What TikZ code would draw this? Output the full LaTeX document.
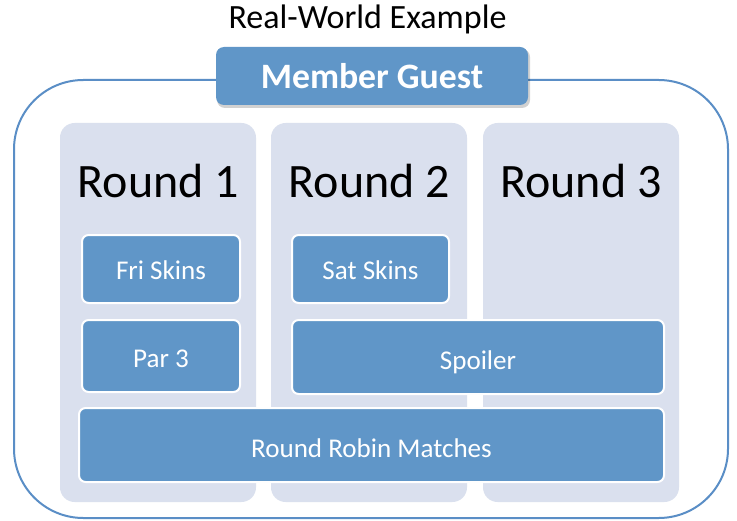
\documentclass[tikz,border=0pt]{standalone}
\usepackage{fontspec}
\setmainfont{Carlito}
\definecolor{boxblue}{HTML}{6096C8}
\definecolor{colfill}{HTML}{DAE0EE}
\definecolor{frameblue}{HTML}{5A8EC6}
\begin{document}
\begin{tikzpicture}[x=0.75pt,y=-0.75pt,
  colbox/.style={fill=colfill,draw=none,rounded corners=11pt,inner sep=0pt},
  itembox/.style={fill=boxblue,draw=white,line width=1.5pt,rounded corners=5pt,inner sep=0pt},
  itemtext/.style={text=white,font=\fontsize{20.3}{24}\selectfont,inner sep=0pt,anchor=base},
  roundlbl/.style={font=\fontsize{36}{43}\selectfont,text=black,inner sep=0pt,anchor=base},
]
\useasboundingbox (0,0) rectangle (737,520);
\fill[white] (0,0) rectangle (737,520);
% title
\node[font=\fontsize{25.5}{30}\selectfont,inner sep=0pt,anchor=base] (title) at (367.5,29) {Real-World Example};
% outer frame
\node[draw=frameblue,line width=1.5pt,rounded corners=52pt,minimum width=714*0.75pt,minimum height=438*0.75pt,inner sep=0pt] (frame) at (371,299) {};
% columns
\node[colbox,minimum width=196*0.75pt,minimum height=379*0.75pt] (c1) at (158,312.5) {};
\node[colbox,minimum width=196*0.75pt,minimum height=379*0.75pt] (c2) at (369,312.5) {};
\node[colbox,minimum width=196*0.75pt,minimum height=379*0.75pt] (c3) at (581,312.5) {};
\node[roundlbl] (r1) at (158.5,197) {Round 1};
\node[roundlbl] (r2) at (369.5,197) {Round 2};
\node[roundlbl] (r3) at (581,197) {Round 3};
% items
\node[itembox,minimum width=158*0.75pt,minimum height=68*0.75pt] (fri) at (161,269) {};
\node[itemtext] (fritext) at (161,279) {Fri Skins};
\node[itembox,minimum width=157*0.75pt,minimum height=68*0.75pt] (sat) at (370.5,269) {};
\node[itemtext] (sattext) at (370.5,279) {Sat Skins};
\node[itembox,minimum width=158*0.75pt,minimum height=72*0.75pt] (par) at (161,356) {};
\node[itemtext] (partext) at (161,367) {Par 3};
\node[itembox,minimum width=372*0.75pt,minimum height=74*0.75pt] (spoiler) at (478,357) {};
\node[itemtext] (spoilertext) at (478,369) {Spoiler};
\node[itembox,minimum width=585*0.75pt,minimum height=74*0.75pt] (rr) at (371.5,445) {};
\node[itemtext] (rrtext) at (371.5,457) {Round Robin Matches};
% header tab
\fill[black,opacity=0.18,rounded corners=6pt] (217,49) rectangle (530,108);
\node[fill=boxblue,draw=none,rounded corners=6pt,minimum width=312*0.75pt,minimum height=58*0.75pt,inner sep=0pt] (mg) at (372,76) {};
\node[text=white,font=\bfseries\fontsize{26.8}{32}\selectfont,inner sep=0pt,anchor=base] (mgtext) at (372,89) {Member Guest};
\end{tikzpicture}
\end{document}
